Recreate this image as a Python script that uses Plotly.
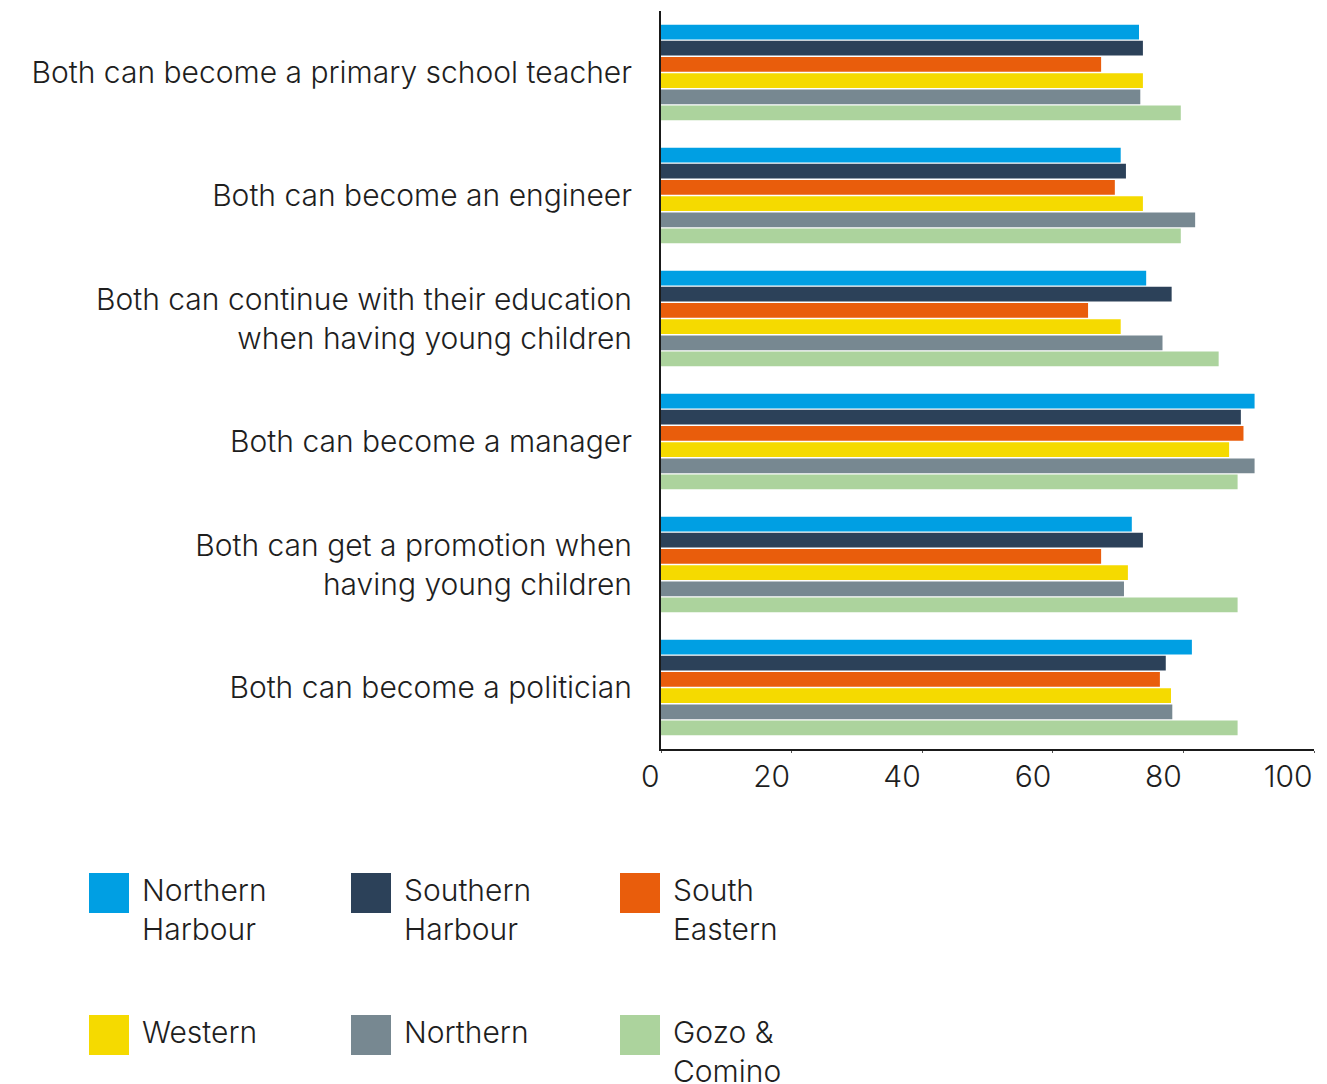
import plotly.graph_objects as go

# Statements about what women and men can both do (top to bottom)
statements = [
    "Both can become a primary school teacher",
    "Both can become an engineer",
    "Both can continue with their education<br>when having young children",
    "Both can become a manager",
    "Both can get a promotion when<br>having young children",
    "Both can become a politician",
]

# Share agreeing (%) by region
northern_harbour = [73.2, 70.4, 74.3, 90.9, 72.1, 81.3]
southern_harbour = [73.8, 71.2, 78.2, 88.8, 73.8, 77.3]
south_eastern = [67.4, 69.5, 65.4, 89.2, 67.4, 76.4]
western = [73.8, 73.8, 70.4, 87.0, 71.5, 78.1]
northern = [73.4, 81.8, 76.8, 90.9, 70.9, 78.3]
gozo_comino = [79.6, 79.6, 85.4, 88.3, 88.3, 88.3]

region_names = ["Northern<br>Harbour", "Southern<br>Harbour", "South<br>Eastern",
                "Western", "Northern", "Gozo &<br>Comino"]
region_values = [northern_harbour, southern_harbour, south_eastern,
                 western, northern, gozo_comino]
region_colors = ["#009FE3", "#2C4159", "#E95D0C", "#F5DA00", "#778891", "#ACD39D"]

x_ticks = [0, 20, 40, 60, 80, 100]

FONT = "Inter"
FSIZE = 30
TEXT_COLOR = "#1e1e1e"
AXIS_COLOR = "#1a1a1a"

W, H = 1327, 1084
ML, MR, MT, MB = 661, 13, 11, 335
PW, PH = W - ML - MR, H - MT - MB

fig = go.Figure()
for name, vals, col in zip(region_names, region_values, region_colors):
    fig.add_trace(go.Bar(
        y=statements, x=vals, orientation="h",
        name=name.replace("<br>", " "), marker=dict(color=col, line=dict(width=0)),
        showlegend=False,
    ))


def px_x(X):
    return (X - ML) / PW


def px_y(Y):
    return (H - MB - Y) / PH


# Custom legend: big square swatches with wrapped names, 3 per row
legend_cols = [89, 351, 620]
legend_rows = [873, 1015]
shapes = []
annotations = []
for i, (name, col) in enumerate(zip(region_names, region_colors)):
    x0 = legend_cols[i % 3]
    y0 = legend_rows[i // 3]
    shapes.append(dict(
        type="rect", xref="paper", yref="paper",
        x0=px_x(x0), x1=px_x(x0 + 40), y0=px_y(y0 + 40), y1=px_y(y0),
        fillcolor=col, line=dict(width=0), layer="above",
    ))
    annotations.append(dict(
        xref="paper", yref="paper", x=px_x(x0 + 51), y=px_y(y0 - 3),
        xanchor="left", yanchor="top", align="left", showarrow=False,
        text=name, font=dict(family=FONT, size=FSIZE, color=TEXT_COLOR, weight=300),
    ))

fig.update_layout(
    width=W, height=H,
    margin=dict(l=ML, r=MR, t=MT, b=MB, pad=0),
    paper_bgcolor="white", plot_bgcolor="white",
    barmode="group", bargap=0.21, bargroupgap=0.09,
    font=dict(family=FONT, size=FSIZE, color=TEXT_COLOR, weight=300),
    shapes=shapes, annotations=annotations,
    xaxis=dict(
        range=[0, 100], tickvals=x_ticks, ticktext=[str(t) for t in x_ticks],
        showgrid=False, zeroline=False,
        showline=True, linecolor=AXIS_COLOR, linewidth=2,
        ticks="outside", ticklen=2, tickcolor="#555", tickwidth=1,
        ticklabelposition="outside left",
        tickfont=dict(family=FONT, size=FSIZE, color=TEXT_COLOR, weight=300),
        fixedrange=True,
    ),
    yaxis=dict(
        autorange="reversed", showgrid=False, zeroline=False,
        showline=True, linecolor=AXIS_COLOR, linewidth=2,
        ticks="", ticklabelstandoff=21,
        tickfont=dict(family=FONT, size=FSIZE, color=TEXT_COLOR, weight=300),
        fixedrange=True,
    ),
)

fig.write_html("out.html")
